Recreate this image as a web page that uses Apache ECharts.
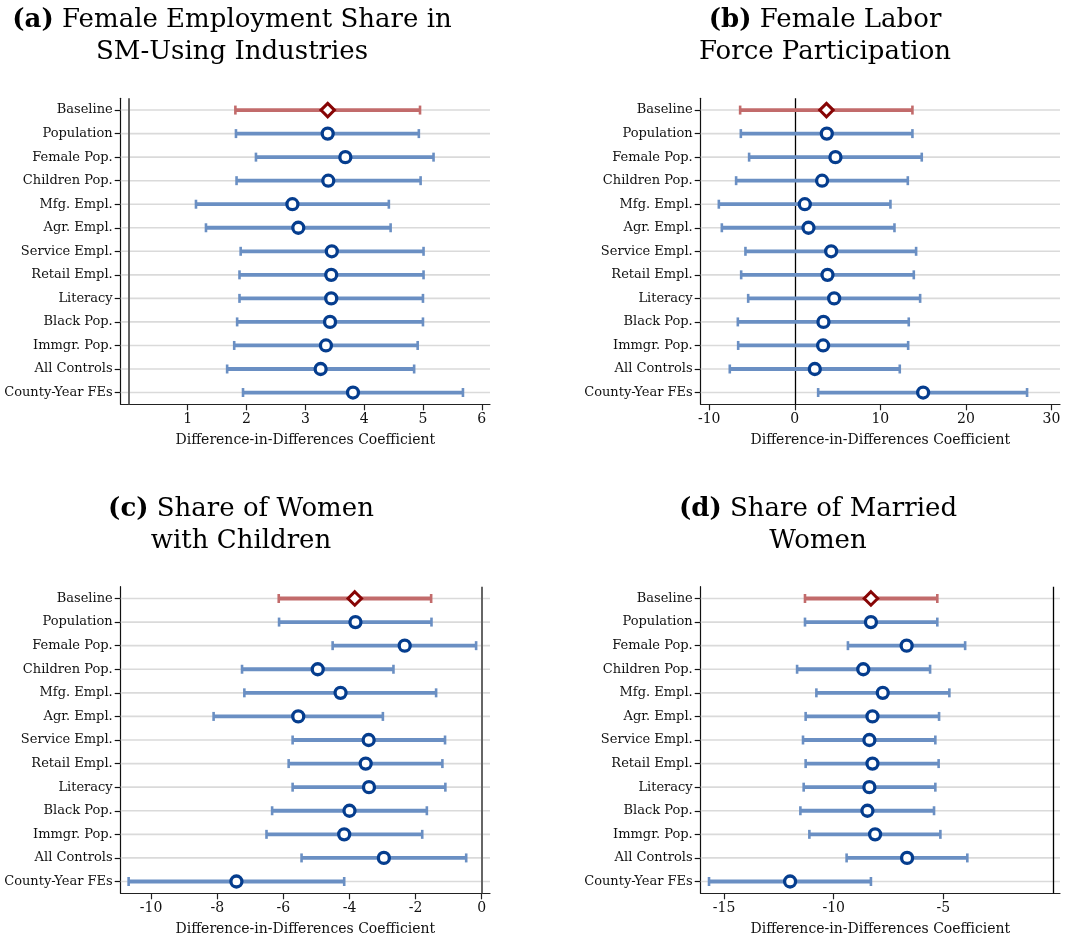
<!DOCTYPE html>
<html>
<head>
<meta charset="utf-8">
<script src="https://cdn.jsdelivr.net/npm/echarts@6/dist/echarts.min.js"></script>
<style>
html,body{margin:0;padding:0;background:#fff;}
#chart{width:1078px;height:942px;}
</style>
</head>
<body>
<div id="chart"></div>
<script>
// ---------- data ----------
const categories = ['Baseline','Population','Female Pop.','Children Pop.','Mfg. Empl.','Agr. Empl.','Service Empl.','Retail Empl.','Literacy','Black Pop.','Immgr. Pop.','All Controls','County-Year FEs'];

const aCoef = [3.38,3.38,3.68,3.39,2.78,2.88,3.45,3.44,3.44,3.42,3.35,3.26,3.81];
const aLow  = [1.81,1.82,2.16,1.83,1.14,1.31,1.90,1.88,1.88,1.84,1.79,1.67,1.94];
const aHigh = [4.95,4.93,5.18,4.96,4.42,4.45,5.01,5.01,5.00,5.00,4.91,4.85,5.68];

const bCoef = [3.70,3.74,4.75,3.19,1.17,1.60,4.25,3.82,4.60,3.35,3.31,2.34,15.00];
const bLow  = [-6.39,-6.31,-5.34,-6.86,-8.88,-8.53,-5.77,-6.27,-5.45,-6.66,-6.62,-7.60,2.73];
const bHigh = [13.75,13.75,14.84,13.21,11.18,11.65,14.18,13.91,14.65,13.32,13.25,12.27,27.15];

const cCoef = [-3.84,-3.82,-2.33,-4.96,-4.27,-5.55,-3.42,-3.51,-3.41,-4.00,-4.16,-2.96,-7.42];
const cLow  = [-6.14,-6.13,-4.51,-7.25,-7.18,-8.11,-5.72,-5.84,-5.72,-6.34,-6.51,-5.45,-10.68];
const cHigh = [-1.53,-1.52,-0.17,-2.67,-1.38,-2.99,-1.11,-1.19,-1.10,-1.66,-1.80,-0.47,-4.16];

const dCoef = [-8.30,-8.30,-6.67,-8.65,-7.76,-8.23,-8.37,-8.23,-8.37,-8.46,-8.11,-6.65,-11.99];
const dLow  = [-11.31,-11.31,-9.35,-11.67,-10.79,-11.28,-11.40,-11.28,-11.37,-11.52,-11.11,-9.41,-15.69];
const dHigh = [-5.27,-5.27,-4.00,-5.60,-4.72,-5.19,-5.36,-5.21,-5.36,-5.42,-5.13,-3.90,-8.30];

const ticksA = [1,2,3,4,5,6];
const ticksB = [-10,0,10,20,30];
const ticksC = [-10,-8,-6,-4,-2,0];
const ticksD = [-15,-10,-5];

const titleA = ['(a)', 'Female Employment Share in', 'SM-Using Industries'];
const titleB = ['(b)', 'Female Labor', 'Force Participation'];
const titleC = ['(c)', 'Share of Women', 'with Children'];
const titleD = ['(d)', 'Share of Married', 'Women'];
const axisName = 'Difference-in-Differences Coefficient';

// ---------- styling ----------
const FONT = 'DejaVu Serif';
const BLUE_CI = '#6a8fc3';
const RED_CI = '#c26b6b';
const BLUE_PT = '#053d8e';
const RED_PT = '#870505';
const GRID_C = '#dadada';

const panels = [
  {coef:aCoef, low:aLow, high:aHigh, ticks:ticksA, min:-0.14, max:6.14, title:titleA, tx:232, ty:4,
   grid:{left:120.7, top:98.3, width:369.3, height:306}, zero:{color:'#666', width:2}},
  {coef:bCoef, low:bLow, high:bHigh, ticks:ticksB, min:-11.0, max:31.0, title:titleB, tx:825, ty:4,
   grid:{left:700.7, top:98.3, width:359.3, height:306}, zero:{color:'#000', width:1.3}},
  {coef:cCoef, low:cLow, high:cHigh, ticks:ticksC, min:-10.92, max:0.25, title:titleC, tx:241, ty:493,
   grid:{left:120.7, top:586.7, width:369.3, height:306.6}, zero:{color:'#666', width:2}},
  {coef:dCoef, low:dLow, high:dHigh, ticks:ticksD, min:-16.07, max:0.33, title:titleD, tx:818, ty:493,
   grid:{left:700.7, top:586.7, width:359.3, height:306.6}, zero:{color:'#000', width:1.3}}
];

function gridLineRender(params, api) {
  const cs = params.coordSys;
  const p = api.coord([0, api.value(0)]);
  return {type:'line', shape:{x1:cs.x, y1:p[1], x2:cs.x+cs.width, y2:p[1]},
          style:{stroke:GRID_C, lineWidth:1.6}};
}
function ciRender(params, api) {
  const cat = api.value(2);
  const p1 = api.coord([api.value(0), cat]);
  const p2 = api.coord([api.value(1), cat]);
  const color = api.visual('color');
  const h = 4.5;
  return {type:'group', children:[
    {type:'line', shape:{x1:p1[0], y1:p1[1], x2:p2[0], y2:p2[1]}, style:{stroke:color, lineWidth:3.8}},
    {type:'line', shape:{x1:p1[0], y1:p1[1]-h, x2:p1[0], y2:p1[1]+h}, style:{stroke:color, lineWidth:2.6}},
    {type:'line', shape:{x1:p2[0], y1:p2[1]-h, x2:p2[0], y2:p2[1]+h}, style:{stroke:color, lineWidth:2.6}}
  ]};
}

const option = {
  animation:false,
  backgroundColor:'#fff',
  title:[], grid:[], xAxis:[], yAxis:[], series:[]
};

panels.forEach((pn, k) => {
  option.title.push({
    text:'{b|' + pn.title[0] + '} ' + pn.title[1] + '\n' + pn.title[2],
    left:pn.tx, top:pn.ty, textAlign:'center', padding:0,
    textStyle:{fontFamily:FONT, fontSize:26, fontWeight:'normal', color:'#000', lineHeight:32,
      rich:{b:{fontFamily:FONT, fontSize:26, fontWeight:'bold', color:'#000', lineHeight:32}}}
  });
  option.grid.push(Object.assign({containLabel:false, outerBoundsMode:'none'}, pn.grid));
  option.xAxis.push({
    type:'value', gridIndex:k, min:pn.min, max:pn.max,
    name:axisName, nameLocation:'middle', nameGap:29,
    nameTextStyle:{fontFamily:FONT, fontSize:14, color:'#111'},
    axisLine:{show:true, onZero:false, lineStyle:{color:'#222', width:1.2}},
    axisTick:{show:true, length:6, lineStyle:{color:'#222', width:1.2}, customValues:pn.ticks},
    axisLabel:{fontFamily:FONT, fontSize:14, color:'#111', margin:8, customValues:pn.ticks,
               formatter:(v)=>String(v)},
    splitLine:{show:false}
  });
  option.yAxis.push({
    type:'category', gridIndex:k, data:categories, inverse:true, boundaryGap:true,
    axisLine:{show:true, onZero:false, lineStyle:{color:'#111', width:1.2}},
    axisTick:{show:true, alignWithLabel:true, length:6, lineStyle:{color:'#111', width:1.2}},
    axisLabel:{fontFamily:FONT, fontSize:13, color:'#111', margin:8, interval:0},
    splitLine:{show:false}
  });
  option.series.push({
    type:'custom', xAxisIndex:k, yAxisIndex:k, z:1, silent:true,
    renderItem:gridLineRender,
    encode:{y:0},
    data:categories.map((c,i)=>[i])
  });
  option.series.push({
    type:'custom', xAxisIndex:k, yAxisIndex:k, z:3, silent:true,
    renderItem:ciRender,
    encode:{x:[0,1], y:2},
    data:categories.map((c,i)=>({value:[pn.low[i], pn.high[i], i], itemStyle:{color: i===0 ? RED_CI : BLUE_CI}}))
  });
  option.series.push({
    type:'scatter', xAxisIndex:k, yAxisIndex:k, z:4, silent:true,
    itemStyle:{opacity:1},
    data:categories.map((c,i)=>({
      value:[pn.coef[i], i],
      symbol: i===0 ? 'diamond' : 'circle',
      symbolSize: i===0 ? [13.5,13.5] : 11,
      itemStyle:{opacity:1, color:'#fff', borderColor: i===0 ? RED_PT : BLUE_PT, borderWidth: i===0 ? 3 : 3.3}
    })),
    markLine:{silent:true, z:2, symbol:['none','none'], label:{show:false},
      lineStyle:{color:pn.zero.color, width:pn.zero.width, type:'solid', opacity:1},
      data:[{xAxis:0}]}
  });
});

const chart = echarts.init(document.getElementById('chart'), null, {renderer:'canvas'});
chart.setOption(option);
</script>
</body>
</html>
